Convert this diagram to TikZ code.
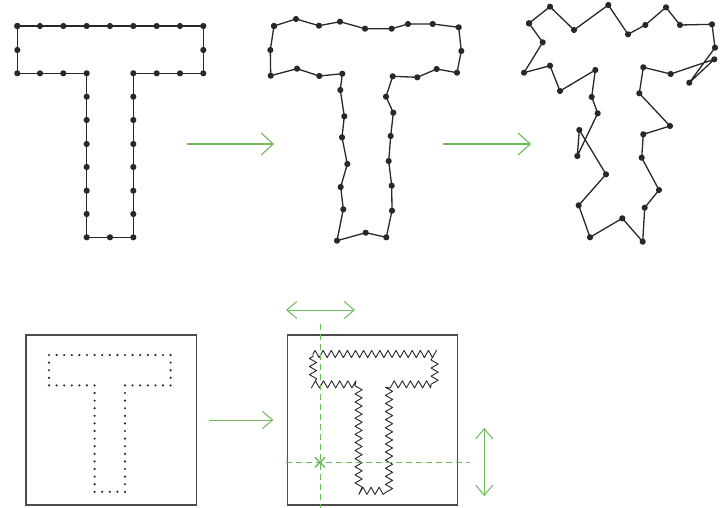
\documentclass[tikz,border=0pt]{standalone}
\usetikzlibrary{arrows.meta,decorations.pathmorphing,calc}
\definecolor{arrgreen}{RGB}{112,186,92}
\definecolor{inkgray}{RGB}{40,40,40}
\begin{document}
\begin{tikzpicture}[x=1pt,y=-1pt,
  tline/.style={line width=1.3pt, draw=inkgray, line join=round},
  tdots/.style={mark=*, mark size=2.4pt, mark options={fill=inkgray, draw=inkgray}},
  smalldot/.style={fill=inkgray, draw=none},
  framebox/.style={draw=black!70, line width=1.1pt},
  garrow/.style={draw=arrgreen, line width=1.1pt, -{Straight Barb[length=12pt,width=22pt,line width=1.1pt]}},
  sarrow/.style={draw=arrgreen, line width=1pt, -{Straight Barb[length=10pt,width=17pt,line width=1pt]}},
  darrow/.style={draw=arrgreen, line width=1pt, {Straight Barb[length=10pt,width=17pt,line width=1pt]}-{Straight Barb[length=10pt,width=17pt,line width=1pt]}},
  gdash/.style={draw=arrgreen, line width=1pt, dash pattern=on 6pt off 4pt},
  wavy/.style={draw=inkgray, line width=0.9pt, line join=round, decorate, decoration={zigzag, segment length=8.1pt, amplitude=3.6pt}}
]
\useasboundingbox (0,0) rectangle (726,508);

% ---- first T (regular grid) ----
\draw[tline] plot[tdots] coordinates {
 (17.3,26) (40,26) (63.3,26) (86.7,26) (110,26) (133.3,26) (156.7,26) (180,26) (203.3,26)
 (203.3,50) (203.3,73.3) (180,73.3) (156.7,73.3) (133.3,73.3)
 (133.3,96.7) (133.3,120) (133.3,144) (133.3,167) (133.3,190.7) (133.3,214) (133.3,237.3)
 (110,237.3) (86.7,237.3)
 (86.7,214) (86.7,190.7) (86.7,167) (86.7,144) (86.7,120) (86.7,96.7) (86.7,73.3)
 (63.3,73.3) (40,73.3) (17.3,73.3) (17.3,50) (17.3,26)};

% ---- second T (slightly perturbed) ----
\draw[tline] plot[tdots] coordinates {
 (274,26) (296,19) (319,25.7) (340,21.7) (365,28.7) (391.7,28.7) (408,24) (432.7,24) (458.7,27.3)
 (461.3,51) (457,72.7) (436.7,69) (417.3,77.3) (392.7,76.3)
 (386,96.7) (393.3,112.7) (390.7,136) (388.7,161) (391.7,185.7) (392,210.7) (386.3,237.3)
 (365.7,232.7) (337,240.7)
 (343.3,209.3) (340.7,187) (347.3,164) (342,137.3) (344.3,116.3) (340.3,90) (342.3,73.7)
 (319.3,76) (297,68.7) (270.7,75.7) (270.3,50) (274,26)};

% ---- third T (strongly perturbed) ----
\draw[tline] plot[tdots] coordinates {
 (529,23.3) (550,6.7) (574,30) (608.3,5) (628,34.3) (645.3,25) (666,7.3) (680,25) (712,24.3)
 (715,47.7) (689.3,82.7) (714.3,59.3) (670.7,74) (643.3,67.3)
 (639.3,93.3) (670,126) (643.3,134.3) (641.7,157.7) (659,190) (644.7,207.7) (642.7,241.7)
 (622.3,218.3) (590,237.3)
 (578.7,205.3) (606,174.3) (579.3,130) (577.3,156) (597.7,113.3) (591.7,97) (595.3,70)
 (560,91) (550,65.7) (524,72.7) (542.7,42.3) (529,23.3)};

% ---- top arrows ----
\coordinate (a1s) at (186.7,144);
\coordinate (a1e) at (274,144);
\coordinate (a2s) at (443,144);
\coordinate (a2e) at (531,144);
\draw[garrow] (a1s) -- (a1e);
\draw[garrow] (a2s) -- (a2e);

% ---- bottom left box with dotted T ----
\draw[framebox] (26,335) rectangle (196.7,505);
\begin{scope}[shift={(49,355)}, x=7.6pt, y=-7.6pt]
  \foreach \i in {0,...,16} \fill[smalldot] (\i,0) circle[radius=1.2pt];
  \foreach \i in {0,...,6,10,11,...,16} \fill[smalldot] (\i,4) circle[radius=1.2pt];
  \foreach \j in {1,2,3} {\fill[smalldot] (0,\j) circle[radius=1.2pt]; \fill[smalldot] (16,\j) circle[radius=1.2pt];}
  \foreach \j in {5,...,18} {\fill[smalldot] (6,\j) circle[radius=1.2pt]; \fill[smalldot] (10,\j) circle[radius=1.2pt];}
  \foreach \i in {7,8,9} \fill[smalldot] (\i,18) circle[radius=1.2pt];
\end{scope}

% ---- bottom arrow ----
\coordinate (a3s) at (209,420);
\coordinate (a3e) at (273.3,420);
\draw[sarrow] (a3s) -- (a3e);

% ---- bottom right box with wavy T ----
\draw[framebox] (287.3,335) rectangle (457.7,505);
\draw[wavy] (313,354) -- ++(121.6,0) -- ++(0,30.4) -- ++(-45.6,0) -- ++(0,106.4)
  -- ++(-30.4,0) -- ++(0,-106.4) -- ++(-45.6,0) -- cycle;

% ---- guides ----
\coordinate (vt) at (320,324);
\coordinate (vb) at (320,508);
\coordinate (hl) at (286,462.3);
\coordinate (hr) at (470,462.3);
\draw[gdash] (vt) -- (vb);
\draw[gdash] (hl) -- (hr);
\coordinate (xc) at (320,462.3);
\draw[arrgreen, line width=1.4pt] ($(xc)+(-5,-5)$) -- ($(xc)+(5,5)$);
\draw[arrgreen, line width=1.4pt] ($(xc)+(-5,5)$) -- ($(xc)+(5,-5)$);

\coordinate (h1) at (286,310);
\coordinate (h2) at (355,310);
\draw[darrow] (h1) -- (h2);
\coordinate (v1) at (484.3,428);
\coordinate (v2) at (484.3,496);
\draw[darrow] (v1) -- (v2);
\end{tikzpicture}
\end{document}
